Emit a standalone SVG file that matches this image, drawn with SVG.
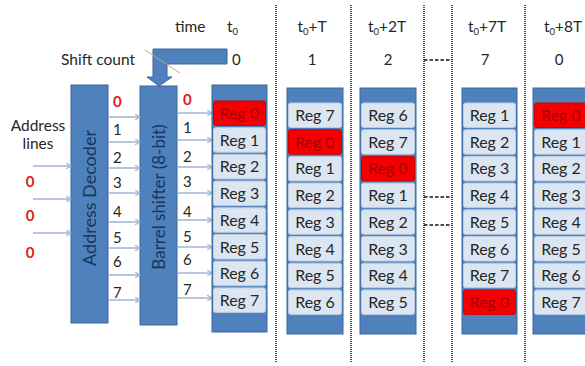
<svg xmlns="http://www.w3.org/2000/svg" width="585" height="366" viewBox="0 0 585 366">
<style>
text{font-family:Lato,"Open Sans","Liberation Sans",sans-serif;fill:#262626}
.lbl{font-size:15.5px}
.num{font-size:15px}
.red{fill:#e31a1a;font-weight:bold}
.blk{fill:#4f81bd;stroke:#3b679b;stroke-width:1}
.cell{fill:#dce6f2;stroke:#b9cce4;stroke-width:1}
.rcell{fill:#f50000;stroke:#d00000;stroke-width:1}
.ct{font-size:16px;text-anchor:middle}
.rt{font-size:16px;text-anchor:middle;fill:#a80000}
.vt{text-anchor:middle;fill:#17375e}
.dot{stroke:#222;stroke-width:1.6;stroke-dasharray:1 1;fill:none}
.dash{stroke:#111;stroke-width:1.6;stroke-dasharray:3.5 2;fill:none}
.arr{stroke:#9fb4d2;stroke-width:1.5;fill:none;marker-end:url(#ah)}
</style>
<defs>
<marker id="ah" markerWidth="6" markerHeight="6" refX="5" refY="3" orient="auto" markerUnits="userSpaceOnUse">
<path d="M0,0 L5,3 L0,6" fill="none" stroke="#9fb4d2" stroke-width="1.2"/>
</marker>
</defs>
<rect width="585" height="366" fill="#fff"/>

<g id="separators">
<line class="dot" x1="276" y1="5" x2="276" y2="362"/>
<line class="dot" x1="351" y1="5" x2="351" y2="362"/>
<line class="dot" x1="424" y1="5" x2="424" y2="362"/>
<line class="dot" x1="452" y1="5" x2="452" y2="362"/>
<line class="dot" x1="525" y1="5" x2="525" y2="362"/>
<line class="dash" x1="424" y1="60" x2="452" y2="60"/>
<line class="dash" x1="424" y1="197" x2="452" y2="197"/>
<line class="dash" x1="424" y1="225" x2="452" y2="225"/>
</g>

<g id="header">
<text class="lbl" x="175" y="32">time</text>
<text class="lbl" x="227" y="32">t<tspan font-size="9.5" dy="3">0</tspan></text>
<text class="lbl" x="61" y="65">Shift count</text>
<text class="num" x="232" y="65">0</text>
<text class="lbl" x="312" y="32" text-anchor="middle">t<tspan font-size="9.5" dy="3">0</tspan><tspan dy="-3">+T</tspan></text>
<text class="lbl" x="387" y="32" text-anchor="middle">t<tspan font-size="9.5" dy="3">0</tspan><tspan dy="-3">+2T</tspan></text>
<text class="lbl" x="487" y="32" text-anchor="middle">t<tspan font-size="9.5" dy="3">0</tspan><tspan dy="-3">+7T</tspan></text>
<text class="lbl" x="563" y="32" text-anchor="middle">t<tspan font-size="9.5" dy="3">0</tspan><tspan dy="-3">+8T</tspan></text>
<text class="num" x="312" y="65" text-anchor="middle">1</text>
<text class="num" x="388" y="65" text-anchor="middle">2</text>
<text class="num" x="485" y="65" text-anchor="middle">7</text>
<text class="num" x="559" y="65" text-anchor="middle">0</text>
</g>

<g id="shift-count">
<path class="blk" d="M153,49 L227,49 L227,64 L167,64 L167,77 L172,77 L159,86 L147,77 L153,77 Z"/>
<line x1="145" y1="50" x2="180" y2="73" stroke="#c9a77a" stroke-width="1"/>
</g>

<g id="address-lines">
<text class="lbl" x="38" y="131" text-anchor="middle">Address</text>
<text class="lbl" x="38" y="149" text-anchor="middle">lines</text>
<text class="num red" x="30" y="187" text-anchor="middle">0</text>
<text class="num red" x="30" y="221" text-anchor="middle">0</text>
<text class="num red" x="30" y="258" text-anchor="middle">0</text>
</g>

<g id="address-decoder">
<rect class="blk" x="71" y="85" width="37" height="238"/>
<text class="vt" font-size="18" transform="translate(96,198) rotate(-90)">Address Decoder</text>
</g>

<g id="barrel-shifter">
<rect class="blk" x="140" y="86" width="37" height="239"/>
<text class="vt" font-size="17" transform="translate(164.5,197) rotate(-90)">Barrel shifter (8-bit)</text>
</g>

<g id="decoder-labels">
<text class="num red" x="113" y="107">0</text>
<text class="num" x="113" y="135">1</text>
<text class="num" x="113" y="163">2</text>
<text class="num" x="113" y="188">3</text>
<text class="num" x="113" y="217">4</text>
<text class="num" x="113" y="243">5</text>
<text class="num" x="113" y="267">6</text>
<text class="num" x="113" y="298">7</text>
<text class="num red" x="183" y="105">0</text>
<text class="num" x="183" y="133">1</text>
<text class="num" x="183" y="162">2</text>
<text class="num" x="183" y="187">3</text>
<text class="num" x="183" y="217">4</text>
<text class="num" x="183" y="242">5</text>
<text class="num" x="183" y="265">6</text>
<text class="num" x="183" y="295">7</text>
</g>

<g id="connectors">
<line class="arr" x1="33" y1="166" x2="71" y2="166"/>
<line class="arr" x1="33" y1="199" x2="71" y2="199"/>
<line class="arr" x1="33" y1="233" x2="71" y2="233"/>
<line class="arr" x1="108" y1="117" x2="140" y2="117"/>
<line class="arr" x1="108" y1="142" x2="140" y2="142"/>
<line class="arr" x1="108" y1="168" x2="140" y2="168"/>
<line class="arr" x1="108" y1="193" x2="140" y2="193"/>
<line class="arr" x1="108" y1="222" x2="140" y2="222"/>
<line class="arr" x1="108" y1="248" x2="140" y2="248"/>
<line class="arr" x1="108" y1="275" x2="140" y2="275"/>
<line class="arr" x1="108" y1="300" x2="140" y2="300"/>
<line class="arr" x1="177" y1="113" x2="212" y2="113"/>
<line class="arr" x1="177" y1="140" x2="212" y2="140"/>
<line class="arr" x1="177" y1="167" x2="212" y2="167"/>
<line class="arr" x1="177" y1="193" x2="212" y2="193"/>
<line class="arr" x1="177" y1="220" x2="212" y2="220"/>
<line class="arr" x1="177" y1="247" x2="212" y2="247"/>
<line class="arr" x1="177" y1="273" x2="212" y2="273"/>
<line class="arr" x1="177" y1="298" x2="212" y2="298"/>
</g>

<g id="regs-t0">
<rect class="blk" x="212" y="85" width="55" height="247"/>
<rect class="rcell" x="213.5" y="101" width="52" height="24.5" rx="2"/><text class="rt" x="239.5" y="119">Reg 0</text>
<rect class="cell" x="213.5" y="127.7" width="52" height="24.5" rx="2"/><text class="ct" x="239.5" y="145.7">Reg 1</text>
<rect class="cell" x="213.5" y="154.4" width="52" height="24.5" rx="2"/><text class="ct" x="239.5" y="172.4">Reg 2</text>
<rect class="cell" x="213.5" y="181.1" width="52" height="24.5" rx="2"/><text class="ct" x="239.5" y="199.1">Reg 3</text>
<rect class="cell" x="213.5" y="207.8" width="52" height="24.5" rx="2"/><text class="ct" x="239.5" y="225.8">Reg 4</text>
<rect class="cell" x="213.5" y="234.5" width="52" height="24.5" rx="2"/><text class="ct" x="239.5" y="252.5">Reg 5</text>
<rect class="cell" x="213.5" y="261.2" width="52" height="24.5" rx="2"/><text class="ct" x="239.5" y="279.2">Reg 6</text>
<rect class="cell" x="213.5" y="287.9" width="52" height="24.5" rx="2"/><text class="ct" x="239.5" y="305.9">Reg 7</text>
</g>

<g id="regs-t0-plus-T">
<rect class="blk" x="287" y="88" width="56" height="246"/>
<rect class="cell" x="288.5" y="103" width="53" height="24.5" rx="2"/><text class="ct" x="315" y="121">Reg 7</text>
<rect class="rcell" x="288.5" y="129.7" width="53" height="24.5" rx="2"/><text class="rt" x="315" y="147.7">Reg 0</text>
<rect class="cell" x="288.5" y="156.4" width="53" height="24.5" rx="2"/><text class="ct" x="315" y="174.4">Reg 1</text>
<rect class="cell" x="288.5" y="183.1" width="53" height="24.5" rx="2"/><text class="ct" x="315" y="201.1">Reg 2</text>
<rect class="cell" x="288.5" y="209.8" width="53" height="24.5" rx="2"/><text class="ct" x="315" y="227.8">Reg 3</text>
<rect class="cell" x="288.5" y="236.5" width="53" height="24.5" rx="2"/><text class="ct" x="315" y="254.5">Reg 4</text>
<rect class="cell" x="288.5" y="263.2" width="53" height="24.5" rx="2"/><text class="ct" x="315" y="281.2">Reg 5</text>
<rect class="cell" x="288.5" y="289.9" width="53" height="24.5" rx="2"/><text class="ct" x="315" y="307.9">Reg 6</text>
</g>

<g id="regs-t0-plus-2T">
<rect class="blk" x="360" y="88" width="56" height="246"/>
<rect class="cell" x="361.5" y="103" width="53" height="24.5" rx="2"/><text class="ct" x="388" y="121">Reg 6</text>
<rect class="cell" x="361.5" y="129.7" width="53" height="24.5" rx="2"/><text class="ct" x="388" y="147.7">Reg 7</text>
<rect class="rcell" x="361.5" y="156.4" width="53" height="24.5" rx="2"/><text class="rt" x="388" y="174.4">Reg 0</text>
<rect class="cell" x="361.5" y="183.1" width="53" height="24.5" rx="2"/><text class="ct" x="388" y="201.1">Reg 1</text>
<rect class="cell" x="361.5" y="209.8" width="53" height="24.5" rx="2"/><text class="ct" x="388" y="227.8">Reg 2</text>
<rect class="cell" x="361.5" y="236.5" width="53" height="24.5" rx="2"/><text class="ct" x="388" y="254.5">Reg 3</text>
<rect class="cell" x="361.5" y="263.2" width="53" height="24.5" rx="2"/><text class="ct" x="388" y="281.2">Reg 4</text>
<rect class="cell" x="361.5" y="289.9" width="53" height="24.5" rx="2"/><text class="ct" x="388" y="307.9">Reg 5</text>
</g>

<g id="regs-t0-plus-7T">
<rect class="blk" x="462" y="88" width="55" height="246"/>
<rect class="cell" x="463.5" y="103" width="52" height="24.5" rx="2"/><text class="ct" x="489.5" y="121">Reg 1</text>
<rect class="cell" x="463.5" y="129.7" width="52" height="24.5" rx="2"/><text class="ct" x="489.5" y="147.7">Reg 2</text>
<rect class="cell" x="463.5" y="156.4" width="52" height="24.5" rx="2"/><text class="ct" x="489.5" y="174.4">Reg 3</text>
<rect class="cell" x="463.5" y="183.1" width="52" height="24.5" rx="2"/><text class="ct" x="489.5" y="201.1">Reg 4</text>
<rect class="cell" x="463.5" y="209.8" width="52" height="24.5" rx="2"/><text class="ct" x="489.5" y="227.8">Reg 5</text>
<rect class="cell" x="463.5" y="236.5" width="52" height="24.5" rx="2"/><text class="ct" x="489.5" y="254.5">Reg 6</text>
<rect class="cell" x="463.5" y="263.2" width="52" height="24.5" rx="2"/><text class="ct" x="489.5" y="281.2">Reg 7</text>
<rect class="rcell" x="463.5" y="289.9" width="52" height="24.5" rx="2"/><text class="rt" x="489.5" y="307.9">Reg 0</text>
</g>

<g id="regs-t0-plus-8T">
<rect class="blk" x="533" y="88" width="56" height="246"/>
<rect class="rcell" x="534.5" y="103" width="53" height="24.5" rx="2"/><text class="rt" x="561" y="121">Reg 0</text>
<rect class="cell" x="534.5" y="129.7" width="53" height="24.5" rx="2"/><text class="ct" x="561" y="147.7">Reg 1</text>
<rect class="cell" x="534.5" y="156.4" width="53" height="24.5" rx="2"/><text class="ct" x="561" y="174.4">Reg 2</text>
<rect class="cell" x="534.5" y="183.1" width="53" height="24.5" rx="2"/><text class="ct" x="561" y="201.1">Reg 3</text>
<rect class="cell" x="534.5" y="209.8" width="53" height="24.5" rx="2"/><text class="ct" x="561" y="227.8">Reg 4</text>
<rect class="cell" x="534.5" y="236.5" width="53" height="24.5" rx="2"/><text class="ct" x="561" y="254.5">Reg 5</text>
<rect class="cell" x="534.5" y="263.2" width="53" height="24.5" rx="2"/><text class="ct" x="561" y="281.2">Reg 6</text>
<rect class="cell" x="534.5" y="289.9" width="53" height="24.5" rx="2"/><text class="ct" x="561" y="307.9">Reg 7</text>
</g>
</svg>
